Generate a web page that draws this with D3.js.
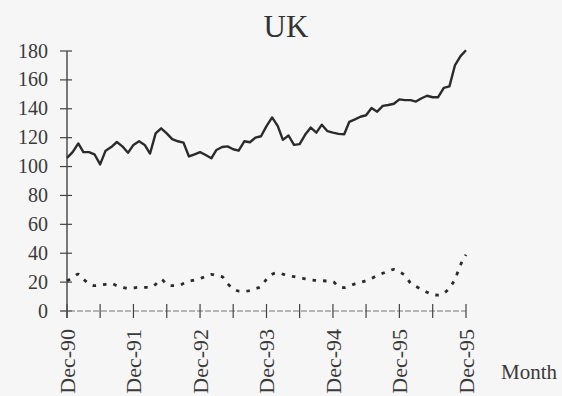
<!DOCTYPE html>
<html lang="en">
<head>
<meta charset="UTF-8">
<title>UK</title>
<script src="https://cdn.jsdelivr.net/npm/d3@7"></script>
<style>
body {
	margin: 0;
	background: #f6f6f6;
}
svg {
	display: block;
	font-family: "Liberation Serif", "DejaVu Serif", serif;
}
.axis text {
	fill: #3a3a3a;
}
</style>
</head>
<body>
<svg width="562" height="396"></svg>
<script>
// monthly series, Dec-90 .. Dec-96
var solid = [106, 110, 116, 110, 110, 108.5, 101.5, 111, 113.5, 117, 114, 109.5,
	115, 117.5, 115, 109, 123, 126.5, 123, 119, 117.5, 116.6, 107, 108.5,
	110, 108, 105.7, 111.5, 113.5, 114, 112, 111, 117.5, 116.8, 120, 121,
	128, 134, 128, 118.5, 121.5, 115, 115.5, 122, 127, 123.5, 129, 124.5,
	123.5, 122.6, 122.4, 131, 132.7, 134.5, 135.5, 140.5, 138, 142, 142.6, 143.5,
	146.5, 146, 146, 145, 147.3, 149, 148, 148, 154.5, 155.5, 170, 176.5, 180.5];
var dotted = [21, 23, 25.5, 22, 19, 17.5, 18, 18.5, 19, 17.5, 16.5, 15.7,
	16, 16.4, 16.4, 16.4, 18.5, 22, 18.5, 17.5, 17.5, 19, 20.5, 21.5,
	22.5, 24, 25.4, 24.5, 23.8, 19, 15.5, 13.8, 13.6, 14.2, 15.5, 17,
	22, 25.5, 26.5, 25.5, 24.5, 23.8, 23.1, 22.3, 21.5, 21.2, 21, 20.7,
	20.3, 17, 16.2, 17.5, 18.8, 19.8, 21, 22.6, 24.5, 26.1, 27.5, 28.8,
	27, 24.5, 19.2, 17, 15, 13, 11.3, 11, 12.3, 16, 22, 32, 39];
var yTicks = [0, 20, 40, 60, 80, 100, 120, 140, 160, 180];
var xLabels = ["Dec-90", "Dec-91", "Dec-92", "Dec-93", "Dec-94", "Dec-95", "Dec-95"];

var svg = d3.select("svg");
var mLeft = 67, mRight = 466, mTop = 51, mBottom = 311;

var months = d3.timeMonth.range(new Date(1990, 11, 1), new Date(1997, 0, 1));
var x = d3.scaleTime().domain([months[0], months[months.length - 1]]).range([mLeft, mRight]);
var y = d3.scaleLinear().domain([0, 180]).range([mBottom, mTop]);

// title
svg.append("text")
	.attr("x", 286).attr("y", 37)
	.attr("text-anchor", "middle")
	.attr("fill", "#333")
	.style("font-size", "31px")
	.text("UK");

// y axis
var ya = svg.append("g").attr("class", "axis");
ya.append("line")
	.attr("x1", mLeft).attr("x2", mLeft)
	.attr("y1", y(180)).attr("y2", mBottom + 7)
	.attr("stroke", "#444").attr("stroke-width", 1.4);
ya.selectAll(".yt").data(yTicks).enter().append("line")
	.attr("x1", mLeft - 7).attr("x2", mLeft + 5)
	.attr("y1", function(d) { return y(d); })
	.attr("y2", function(d) { return y(d); })
	.attr("stroke", "#444").attr("stroke-width", 1.2);
ya.selectAll(".yl").data(yTicks).enter().append("text")
	.attr("x", 48)
	.attr("y", function(d) { return y(d); })
	.attr("dy", "0.33em")
	.attr("text-anchor", "end")
	.style("font-size", "20px")
	.text(function(d) { return d; });

// x axis
var xa = svg.append("g").attr("class", "axis");
var xTicks = months.filter(function(d, i) { return i % 6 == 0; });
xa.append("line")
	.attr("x1", mLeft - 6).attr("x2", mRight)
	.attr("y1", mBottom).attr("y2", mBottom)
	.attr("stroke", "#777").attr("stroke-width", 1)
	.attr("stroke-dasharray", "6,2");
xa.selectAll(".xt").data(xTicks).enter().append("line")
	.attr("x1", function(d) { return x(d); })
	.attr("x2", function(d) { return x(d); })
	.attr("y1", mBottom - 7).attr("y2", mBottom + 7)
	.attr("stroke", "#444").attr("stroke-width", 1.2);
var labelDates = months.filter(function(d, i) { return i % 12 == 0; });
xa.selectAll(".xl").data(labelDates).enter().append("text")
	.attr("transform", function(d) { return "translate(" + x(d) + ",329) rotate(-90)"; })
	.attr("dy", "0.35em")
	.attr("text-anchor", "end")
	.style("font-size", "22px")
	.text(function(d, i) { return xLabels[i]; });
xa.append("text")
	.attr("x", 501).attr("y", 379)
	.style("font-size", "21px")
	.text("Month");

// series
var line = d3.line()
	.x(function(d, i) { return x(months[i]); })
	.y(function(d) { return y(d); });

svg.append("path")
	.datum(solid)
	.attr("fill", "none")
	.attr("stroke", "#2b2b2b")
	.attr("stroke-width", 2.4)
	.attr("stroke-linejoin", "round")
	.attr("d", line);

svg.append("path")
	.datum(dotted)
	.attr("fill", "none")
	.attr("stroke", "#2b2b2b")
	.attr("stroke-width", 2.8)
	.attr("stroke-dasharray", "3.5,7")
	.attr("d", line.curve(d3.curveMonotoneX));
</script>
</body>
</html>
